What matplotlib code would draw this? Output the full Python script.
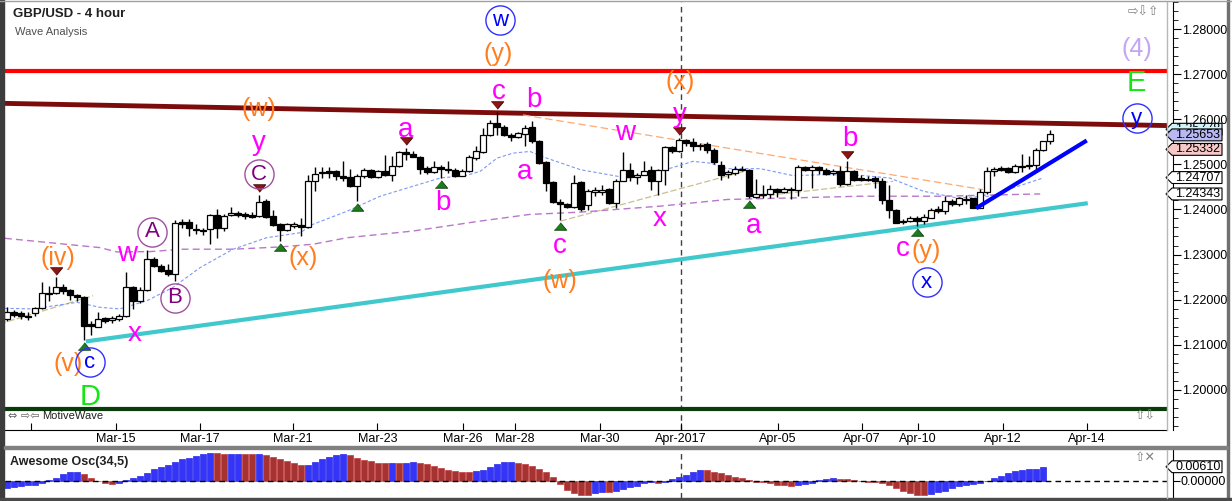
import numpy as np
import matplotlib.pyplot as plt
import matplotlib.transforms as mtransforms
from matplotlib.patches import Polygon, Rectangle
from matplotlib.lines import Line2D

plt.rcParams['font.family'] = ['Liberation Sans', 'DejaVu Sans']

# ---- GBP/USD 4h candles ----
opens = [1.21574, 1.21735, 1.21699, 1.21647, 1.21699, 1.21816, 1.22147, 1.22147, 1.22287, 1.22213,
         1.22103, 1.22051, 1.21449, 1.21404, 1.21596, 1.21552, 1.21574, 1.21647, 1.22287, 1.21963,
         1.22213, 1.22897, 1.22750, 1.22654, 1.22566, 1.23728, 1.23728, 1.23574, 1.23544, 1.23559,
         1.23875, 1.23581, 1.23875, 1.23926, 1.23890, 1.23868, 1.23846, 1.24184, 1.23853, 1.23669,
         1.23544, 1.23640, 1.23647, 1.23618, 1.24625, 1.24802, 1.24845, 1.24845, 1.24750, 1.24713,
         1.24530, 1.24735, 1.24882, 1.24721, 1.24845, 1.24772, 1.24971, 1.25272, 1.25228, 1.25169,
         1.24919, 1.24831, 1.24934, 1.24904, 1.24882, 1.24750, 1.24845, 1.25140, 1.25272, 1.25654,
         1.25912, 1.25838, 1.25654, 1.25596, 1.25677, 1.25838, 1.25522, 1.25044, 1.24610, 1.24169,
         1.24125, 1.24051, 1.24610, 1.24096, 1.24397, 1.24397, 1.24456, 1.24147, 1.24640, 1.24882,
         1.24721, 1.24772, 1.24882, 1.24640, 1.24882, 1.25375, 1.25302, 1.25544, 1.25485, 1.25434,
         1.25449, 1.25324, 1.24993, 1.24780, 1.24809, 1.24904, 1.24882, 1.24280, 1.24353, 1.24346,
         1.24463, 1.24397, 1.24463, 1.24427, 1.24941, 1.24882, 1.24941, 1.24882, 1.24809, 1.24860,
         1.24574, 1.24860, 1.24698, 1.24684, 1.24698, 1.24625, 1.24206, 1.23978, 1.23743, 1.23735,
         1.23809, 1.23735, 1.23816, 1.24000, 1.23963, 1.24184, 1.24110, 1.24213, 1.24243, 1.24037,
         1.24383, 1.24845, 1.24919, 1.24919, 1.24831, 1.24971, 1.24963, 1.24993, 1.25324, 1.25507]
highs = [1.21846, 1.21772, 1.21757, 1.21721, 1.21846, 1.22382, 1.22309, 1.22493, 1.22346, 1.22235,
         1.22125, 1.22088, 1.21537, 1.21721, 1.21610, 1.21647, 1.21684, 1.22603, 1.22309, 1.22272,
         1.23096, 1.22949, 1.22787, 1.22787, 1.23757, 1.23779, 1.23779, 1.23669, 1.23596, 1.23904,
         1.24000, 1.23904, 1.24051, 1.23963, 1.23949, 1.23949, 1.24331, 1.24221, 1.23978, 1.23706,
         1.23706, 1.23728, 1.23816, 1.24772, 1.24934, 1.24934, 1.24934, 1.24882, 1.25081, 1.24904,
         1.24787, 1.24919, 1.24904, 1.24882, 1.25199, 1.25177, 1.25287, 1.25360, 1.25287, 1.25184,
         1.24956, 1.25081, 1.24993, 1.25081, 1.24919, 1.24904, 1.25199, 1.25397, 1.25802, 1.25985,
         1.26169, 1.25875, 1.25691, 1.25728, 1.25875, 1.25963, 1.25544, 1.25066, 1.24625, 1.24221,
         1.24147, 1.24758, 1.24640, 1.24463, 1.24493, 1.24552, 1.24478, 1.24684, 1.25272, 1.25030,
         1.24809, 1.25081, 1.24956, 1.24904, 1.25397, 1.25397, 1.25581, 1.25566, 1.25581, 1.25471,
         1.25493, 1.25360, 1.25066, 1.24882, 1.24956, 1.24956, 1.24904, 1.24684, 1.24552, 1.24537,
         1.24478, 1.24493, 1.24493, 1.24978, 1.24971, 1.24993, 1.24971, 1.24919, 1.24904, 1.24956,
         1.25066, 1.24882, 1.24772, 1.24750, 1.24735, 1.24698, 1.24552, 1.24000, 1.23779, 1.23853,
         1.23853, 1.23890, 1.24037, 1.24074, 1.24294, 1.24221, 1.24272, 1.24331, 1.24258, 1.24463,
         1.24934, 1.24934, 1.24956, 1.24934, 1.25007, 1.25228, 1.25177, 1.25360, 1.25522, 1.25765]
lows = [1.21537, 1.21610, 1.21574, 1.21552, 1.21647, 1.21794, 1.21978, 1.22125, 1.22125, 1.21993,
        1.21978, 1.21096, 1.21206, 1.21390, 1.21478, 1.21478, 1.21537, 1.21610, 1.21794, 1.21919,
        1.22198, 1.22713, 1.22603, 1.22529, 1.22419, 1.23596, 1.23412, 1.23449, 1.23434, 1.23243,
        1.23375, 1.23522, 1.23853, 1.23831, 1.23779, 1.23801, 1.23831, 1.23816, 1.23632, 1.23301,
        1.23522, 1.23596, 1.23412, 1.23596, 1.24405, 1.24698, 1.24698, 1.24662, 1.24640, 1.24493,
        1.24184, 1.24698, 1.24698, 1.24698, 1.24735, 1.24625, 1.24934, 1.25103, 1.25154, 1.24787,
        1.24787, 1.24809, 1.24698, 1.24809, 1.24713, 1.24735, 1.24831, 1.25103, 1.25250, 1.25618,
        1.25654, 1.25618, 1.25507, 1.25581, 1.25397, 1.25471, 1.25007, 1.24405, 1.24147, 1.23757,
        1.24037, 1.24037, 1.23963, 1.23978, 1.24294, 1.24331, 1.24125, 1.24022, 1.24625, 1.24640,
        1.24566, 1.24758, 1.24441, 1.24331, 1.24552, 1.25250, 1.25272, 1.25397, 1.25287, 1.25324,
        1.25250, 1.25007, 1.24662, 1.24698, 1.24772, 1.24845, 1.24258, 1.24258, 1.24243, 1.24243,
        1.24272, 1.24368, 1.24221, 1.24309, 1.24845, 1.24478, 1.24787, 1.24772, 1.24758, 1.24515,
        1.24552, 1.24625, 1.24640, 1.24625, 1.24478, 1.24110, 1.23816, 1.23706, 1.23669, 1.23713,
        1.23633, 1.23684, 1.23801, 1.23926, 1.23904, 1.24074, 1.24074, 1.24110, 1.24022, 1.24022,
        1.24346, 1.24735, 1.24845, 1.24809, 1.24809, 1.24831, 1.24904, 1.24882, 1.25302, 1.25448]
closes = [1.21721, 1.21669, 1.21632, 1.21618, 1.21816, 1.22147, 1.22118, 1.22272, 1.22184, 1.22103,
          1.22051, 1.21412, 1.21412, 1.21574, 1.21537, 1.21596, 1.21647, 1.22272, 1.21963, 1.22213,
          1.22897, 1.22750, 1.22640, 1.22566, 1.23691, 1.23684, 1.23596, 1.23544, 1.23522, 1.23875,
          1.23581, 1.23860, 1.23926, 1.23875, 1.23846, 1.23838, 1.24169, 1.23838, 1.23654, 1.23544,
          1.23669, 1.23669, 1.23618, 1.24625, 1.24794, 1.24831, 1.24809, 1.24750, 1.24698, 1.24515,
          1.24750, 1.24882, 1.24713, 1.24845, 1.24772, 1.24971, 1.25265, 1.25228, 1.25169, 1.24904,
          1.24831, 1.24949, 1.24904, 1.24875, 1.24735, 1.24860, 1.25154, 1.25287, 1.25654, 1.25912,
          1.25838, 1.25654, 1.25596, 1.25691, 1.25816, 1.25507, 1.25030, 1.24588, 1.24169, 1.24125,
          1.24051, 1.24588, 1.24000, 1.24419, 1.24427, 1.24441, 1.24147, 1.24640, 1.24882, 1.24721,
          1.24772, 1.24860, 1.24640, 1.24882, 1.25375, 1.25287, 1.25544, 1.25471, 1.25412, 1.25404,
          1.25324, 1.25052, 1.24758, 1.24824, 1.24904, 1.24875, 1.24294, 1.24353, 1.24324, 1.24463,
          1.24397, 1.24463, 1.24427, 1.24941, 1.24882, 1.24941, 1.24882, 1.24787, 1.24860, 1.24574,
          1.24860, 1.24662, 1.24655, 1.24655, 1.24625, 1.24199, 1.23978, 1.23706, 1.23713, 1.23809,
          1.23735, 1.23831, 1.23978, 1.23956, 1.24184, 1.24110, 1.24243, 1.24235, 1.24037, 1.24383,
          1.24845, 1.24897, 1.24882, 1.24831, 1.24956, 1.24941, 1.24993, 1.25324, 1.25507, 1.25669]

# moving averages (bar index, price)
ma_fast_x = [-0.3, 3.7, 10, 13.3, 16.1, 20, 23.7, 27.6, 32.3, 37.1, 41.9, 43.7, 48.6, 53.3, 58, 61.9,
             65.7, 67.6, 70, 72.3, 74.7, 77.1, 81.9, 88.6, 93.3, 98, 100.4, 102.9, 107.6, 112.3,
             117.1, 121.9, 126.1, 130.9, 135.7, 140.4, 143.7, 148]
ma_fast_y = [1.21807, 1.21794, 1.21940, 1.21829, 1.21794, 1.21977, 1.22270, 1.22712, 1.23118, 1.23373,
             1.23484, 1.23669, 1.23962, 1.24293, 1.24514, 1.24697, 1.24757, 1.24845, 1.25138, 1.25249,
             1.25286, 1.25138, 1.24882, 1.24697, 1.24845, 1.25066, 1.25028, 1.24904, 1.24904, 1.24750,
             1.24772, 1.24757, 1.24697, 1.24404, 1.24256, 1.24293, 1.24477, 1.24697]
ma_slow_x = [-0.3, 6.1, 13.3, 15.7, 20.4, 25.1, 32.3, 39, 43.7, 48.6, 58, 67.6, 74.7, 81.9, 93.3,
             102.9, 112.3, 121.9, 133.3, 147.6]
ma_slow_y = [1.23360, 1.23263, 1.23153, 1.23058, 1.23065, 1.23118, 1.23118, 1.23168, 1.23228, 1.23373,
             1.23521, 1.23742, 1.23890, 1.23940, 1.24073, 1.24221, 1.24256, 1.24293, 1.24293, 1.24344]

# Awesome Oscillator (34,5)
ao_values = [-0.0031, -0.0027, -0.0026, -0.0022, -0.0019, -0.0010, 0.0001, 0.0013, 0.0028, 0.0037,
             0.0038, 0.0028, 0.0013, -0.0001, -0.0010, -0.0015, -0.0013, 0.0001, 0.0009, 0.0019,
             0.0033, 0.0050, 0.0058, 0.0068, 0.0081, 0.0094, 0.0099, 0.0110, 0.0116, 0.0122,
             0.0121, 0.0116, 0.0117, 0.0118, 0.0117, 0.0116, 0.0117, 0.0112, 0.0103, 0.0094,
             0.0085, 0.0076, 0.0068, 0.0069, 0.0081, 0.0094, 0.0103, 0.0112, 0.0116, 0.0112,
             0.0099, 0.0090, 0.0085, 0.0077, 0.0076, 0.0077, 0.0076, 0.0077, 0.0081, 0.0076,
             0.0072, 0.0063, 0.0054, 0.0046, 0.0041, 0.0037, 0.0036, 0.0041, 0.0046, 0.0059,
             0.0072, 0.0080, 0.0081, 0.0076, 0.0072, 0.0064, 0.0052, 0.0038, 0.0015, -0.0015,
             -0.0043, -0.0055, -0.0065, -0.0066, -0.0055, -0.0052, -0.0053, -0.0047, -0.0038, -0.0029,
             -0.0024, -0.0011, -0.0008, -0.0009, -0.0006, 0.0006, 0.0015, 0.0024, 0.0038, 0.0047,
             0.0046, 0.0038, 0.0034, 0.0024, 0.0015, 0.0011, 0.0001, -0.0005, -0.0006, -0.0011,
             -0.0019, -0.0020, -0.0024, -0.0020, -0.0015, -0.0011, 0.0002, 0.0006, 0.0011, 0.0007,
             0.0006, 0.0002, -0.0001, -0.0005, -0.0006, -0.0011, -0.0020, -0.0034, -0.0047, -0.0056,
             -0.0065, -0.0066, -0.0061, -0.0052, -0.0047, -0.0034, -0.0024, -0.0020, -0.0015, -0.0011,
             0.0000, 0.0011, 0.0020, 0.0034, 0.0043, 0.0047, 0.0051, 0.0052, 0.0061]

date_ticks = [3.4, 15.5, 27.5, 40.8, 52.9, 65.1, 72.5, 84.7, 96.3, 110.1, 122.1, 130.1, 142.3, 154.3]
date_labels = ['', 'Mar-15', 'Mar-17', 'Mar-21', 'Mar-23', 'Mar-26', 'Mar-28', 'Mar-30',
               'Apr-2017', 'Apr-05', 'Apr-07', 'Apr-10', 'Apr-12', 'Apr-14']

peak_bars = [7, 36, 57, 70, 96, 120]
trough_bars = [11, 39, 50, 62, 79, 106, 130]

# ---- figure ----
W, H = 1232, 501
fig = plt.figure(figsize=(W / 100, H / 100), dpi=100)
px = mtransforms.Affine2D().scale(1 / W, -1 / H).translate(0, 1) + fig.transFigure


def rect(x0, y0, x1, y1):
    return [x0 / W, 1 - y1 / H, (x1 - x0) / W, (y1 - y0) / H]


ax = fig.add_axes(rect(5, 2, 1167, 430))
ao_ax = fig.add_axes(rect(5, 450, 1167, 498))
XLIM = (-2 / 7, 1160 / 7)
for a in (ax, ao_ax):
    a.set_xlim(*XLIM)
    for s in ('left', 'top'):
        a.spines[s].set_visible(False)
    a.spines['right'].set_position(('outward', 4))
    a.yaxis.tick_right()
ax.set_ylim(1.19109, 1.28558)
ao_ax.set_ylim(-0.00775, 0.01351)
ao_ax.spines['bottom'].set_visible(False)

x = np.arange(len(closes))
o, h, l, c = (np.array(v) for v in (opens, highs, lows, closes))
up = c >= o

# wave / trend lines
ax.axhline(1.27066, color='#ff0000', lw=3, zorder=2)
ax.axhline(1.19572, color='#0b3b0b', lw=3, zorder=2)
ax.plot(XLIM, [1.26352, 1.25860], color='#7c0c0c', lw=3.5, zorder=2)
ax.plot([11.57, 154.1], [1.21079, 1.24132], color='#40c8cc', lw=3, zorder=2)
ax.plot([138.7, 154.0], [1.24051, 1.25505], color='#0000ff', lw=3, zorder=5)
ax.plot([73.7, 139.4], [1.26096, 1.24441], color='#ffa870', lw=0.9, ls=(0, (6, 3)), zorder=2)
for xs, ys in (([-1, 12.3], [1.21463, 1.22087]),
               ([79.1, 105.7], [1.23742, 1.24860]),
               ([107.6, 126.6], [1.24293, 1.24624])):
    ax.plot(xs, ys, color='#c8c090', lw=0.9, ls=(0, (5, 2)), zorder=2)
ax.plot(ma_fast_x, ma_fast_y, color='#7c98f4', lw=0.8, ls=(0, (3, 2)), zorder=2)
ax.plot(ma_slow_x, ma_slow_y, color='#b878c8', lw=1.0, ls=(0, (5, 3)), zorder=2)

# candles
ax.vlines(x, l, h, color='black', lw=1, zorder=3)
ax.bar(x, np.maximum(np.abs(c - o), 0.00012), bottom=np.minimum(o, c), width=0.72,
       color=np.where(up, 'white', 'black'), edgecolor='black', lw=0.9, zorder=4)

# swing markers
tri_dn = [(-1, 0.6), (1, 0.6), (0, -0.6)]
tri_up = [(-1, -0.6), (1, -0.6), (0, 0.6)]
ax.plot(peak_bars, h[peak_bars] + 0.0015, ls='none', marker=tri_dn, ms=9,
        mfc='#8a1616', mec='#3a0000', mew=0.6, zorder=5)
ax.plot(trough_bars, l[trough_bars] - 0.0013, ls='none', marker=tri_up, ms=9,
        mfc='#1f7d1f', mec='#0a3a0a', mew=0.6, zorder=5)

# wave labels
MAG, ORG = '#ff00ff', '#ff7d1e'
plain = [('c', 70.2, 1.26610, MAG, 20), ('b', 75.2, 1.26427, MAG, 20), ('a', 57, 1.25765, MAG, 20),
         ('b', 62.2, 1.24146, MAG, 20), ('a', 74, 1.24829, MAG, 20), ('c', 79, 1.23190, MAG, 20),
         ('w', 88.3, 1.25690, MAG, 20), ('y', 96.1, 1.26096, MAG, 20), ('x', 93.3, 1.23779, MAG, 20),
         ('a', 106.7, 1.23632, MAG, 20), ('b', 120.4, 1.25551, MAG, 20), ('c', 128, 1.23118, MAG, 20),
         ('y', 36, 1.25469, MAG, 20), ('w', 17.2, 1.23021, MAG, 20), ('x', 18.3, 1.21227, MAG, 20),
         ('(y)', 70.1, 1.27448, ORG, 18), ('(w)', 36, 1.26228, ORG, 18), ('(x)', 42.3, 1.22932, ORG, 18),
         ('(w)', 79, 1.22418, ORG, 18), ('(x)', 96.1, 1.26830, ORG, 18), ('(y)', 131.3, 1.23080, ORG, 18),
         ('(iv)', 7.3, 1.22932, ORG, 18), ('(v)', 8.8, 1.20581, ORG, 18),
         ('D', 11.9, 1.19844, '#14e614', 21), ('E', 161.4, 1.26793, '#14e614', 21),
         ('(4)', 161.4, 1.27565, '#c4a4f4', 18)]
for s, bx, by, col, fs in plain:
    ax.text(bx, by, s, color=col, fontsize=fs, ha='center', va='center', zorder=7)

circled = [('w', 70.4, 1.28198, '#0000ff', '#3030ff'), ('C', 36, 1.24785, '#800080', '#a050a0'),
           ('A', 20.7, 1.23510, '#800080', '#a050a0'), ('B', 24, 1.22037, '#800080', '#a050a0'),
           ('c', 11.8, 1.20616, '#0000ff', '#3030ff'), ('x', 131.4, 1.22381, '#0000ff', '#3030ff'),
           ('y', 161.4, 1.26021, '#0000ff', '#3030ff')]
for s, bx, by, tc, cc in circled:
    ax.plot(bx, by, marker='o', ms=21, mfc='none', mec=cc, mew=1, zorder=7, clip_on=False)
    ax.text(bx, by, s, color=tc, fontsize=16, ha='center', va='center', zorder=7)

# axis formatting
ax.set_yticks(np.arange(1.20, 1.2801, 0.01))
ax.set_yticks(np.arange(1.192, 1.2861, 0.002), minor=True)
ax.yaxis.set_major_formatter(plt.FormatStrFormatter('%.5f'))
ax.tick_params(axis='y', which='major', length=6, pad=1, labelsize=9)
ax.tick_params(axis='y', which='minor', length=3.5)
ax.set_xticks(date_ticks)
ax.set_xticklabels(date_labels)
ax.tick_params(axis='x', direction='in', length=5, pad=2, labelsize=9)

ao_x = np.arange(len(ao_values))
ao = np.array(ao_values)
rising = np.r_[True, np.diff(ao) >= 0]
ao_ax.bar(ao_x, ao, width=0.78, color=np.where(rising, '#3535fa', '#a63232'),
          edgecolor=np.where(rising, '#2828e8', '#c23c3c'), lw=0.5, zorder=3)
ao_ax.axhline(0, color='black', lw=1, ls=(0, (4, 3)), zorder=4)
ao_ax.set_xticks([])
ao_ax.set_yticks([0])
ao_ax.yaxis.set_major_formatter(plt.FormatStrFormatter('%.5f'))
ao_ax.tick_params(axis='y', length=5, pad=1, labelsize=9)

for a in (ax, ao_ax):
    a.axvline(96.3, color='#404040', lw=1, ls=(0, (4, 3)), zorder=1)


# price tags on the right scale
def price_tag(axis, value, text, face, half, clip=None):
    tr = mtransforms.blended_transform_factory(px, axis.transData)
    pts = [(1166, value), (1172, value + half), (1222, value + half), (1222, value - half), (1172, value - half)]
    axis.add_patch(Polygon(pts, closed=True, transform=tr, facecolor=face, edgecolor='black',
                           lw=0.8, clip_on=False, zorder=20))
    t = axis.text(1175.5, value, text, transform=tr, fontsize=9, va='center', ha='left',
                  clip_on=clip is not None, zorder=21)
    if clip is not None:
        t.set_clip_path(Rectangle((1160, clip[0]), 70, clip[1] - clip[0], transform=px))


price_tag(ax, 1.25778, '1.25778', '#d2f2fa', 0.00132, clip=(115, 127.3))
price_tag(ax, 1.25653, '1.25653', '#b8b8f4', 0.00132)
price_tag(ax, 1.25332, '1.25332', '#f6c8c8', 0.00132)
price_tag(ax, 1.24707, '1.24707', 'white', 0.00132)
price_tag(ax, 1.24343, '1.24343', 'white', 0.00132)
price_tag(ao_ax, 0.0061, '0.00610', 'white', 0.00262)

# chrome: frame, separators, captions, icons
fig.add_artist(Rectangle((0, 0), 4, H, transform=px, color='#3c3c3c'))
fig.add_artist(Rectangle((1227, 0), 2, H, transform=px, color='#707070'))
fig.add_artist(Rectangle((0, 498), W, 3, transform=px, color='#4a4a4a'))
fig.add_artist(Line2D([0, W], [0.5, 0.5], transform=px, color='#a0a0a0', lw=1))
fig.add_artist(Rectangle((4, 446.5), 1224, 2.5, transform=px, color='#808080'))
for y0, y1 in ((2, 430), (450, 498)):
    fig.add_artist(Line2D([1167, 1167], [y0, y1], transform=px, color='#b8b8b0', lw=1))

fig.text(13, 14, 'GBP/USD - 4 hour', transform=px, fontsize=9.5, fontweight='bold',
         va='center', color='#202020')
fig.text(15, 32, 'Wave Analysis', transform=px, fontsize=8, va='center', color='#505050')
fig.text(10, 462, 'Awesome Osc(34,5)', transform=px, fontsize=9, fontweight='bold',
         va='center', color='#202020')
fig.text(8, 416, '⇔ ⇨⇦', transform=px, fontsize=8, va='center', color='#606060',
         family=['DejaVu Sans'])
fig.text(42, 416, 'MotiveWave', transform=px, fontsize=8, va='center', color='#202020')
fig.text(1128, 12, '⇨⇩⇧', transform=px, fontsize=9, va='center', color='#808080',
         family=['DejaVu Sans'])
fig.text(1135, 416, '⇧⇩', transform=px, fontsize=9, va='center', color='#808080',
         family=['DejaVu Sans'])
fig.text(1135, 458, '⇧✕', transform=px, fontsize=9, va='center', color='#808080',
         family=['DejaVu Sans'])

fig.savefig('out.png', dpi=100)
